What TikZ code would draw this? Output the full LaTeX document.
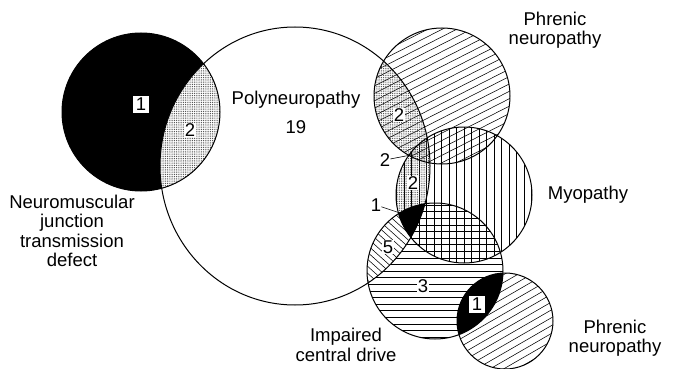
\documentclass[tikz,border=0pt]{standalone}
\usepackage{fontspec}
\setmainfont{Liberation Sans}
\usetikzlibrary{patterns.meta}
\newcommand\hatchlines[4]{% center, angle, spacing, count
  \begin{scope}[shift={#1}, rotate=#2]
    \foreach \k in {-#4,...,#4} \draw[hatchline] (-95,{\k*#3}) -- (95,{\k*#3});
  \end{scope}}
\begin{document}
\begin{tikzpicture}[x=1pt,y=-1pt,
  lbl/.style={font=\fontsize{18.5}{19.5}\selectfont, align=center, inner sep=0pt},
  num/.style={font=\fontsize{18.5}{19.5}\selectfont, fill=white, inner sep=0.8pt},
  boxnum/.style={font=\fontsize{18.5}{19.5}\selectfont, fill=white, draw=black, line width=0.4pt, inner sep=1.2pt, minimum width=17pt, minimum height=18pt},
  ring/.style={draw=black, line width=1.0pt},
  leader/.style={draw=black, line width=0.6pt},
  hatchline/.style={draw=black, line width=0.55pt},
  stipple/.style={pattern={Dots[distance=1.8pt,radius=0.5pt]}, pattern color=black!80}
]
\useasboundingbox (0,0) rectangle (675,369);
\def\NMJ{(141,112) circle[radius=79pt]}
\def\Poly{(295,166) ellipse[x radius=135pt,y radius=139pt]}
\def\TP{(442,96) circle[radius=68pt]}
\def\Myo{(464,195) circle[radius=68pt]}
\def\ICD{(435,271) circle[radius=68pt]}
\def\BP{(505,321) circle[radius=48pt]}

% base fills
\fill[black] \NMJ;
\begin{scope}\clip \TP;  \hatchlines{(442,96)}{27}{6.6}{12}\end{scope}
\begin{scope}\clip \Myo; \hatchlines{(464,195)}{90}{7.5}{10}\end{scope}
\begin{scope}\clip \ICD; \hatchlines{(435,271)}{0}{6.6}{12}\end{scope}
\begin{scope}\clip \BP;  \hatchlines{(505,321)}{30}{6.8}{8}\end{scope}

% overlaps with polyneuropathy
\begin{scope}
  \clip \Poly;
  \fill[white] \NMJ;
  \path[stipple] \NMJ;
  \path[stipple] \TP;
  \path[stipple] \Myo;
  \begin{scope}
    \clip \ICD;
    \fill[white] (150,150) rectangle (450,350);
    \hatchlines{(435,271)}{-42}{5.2}{15}
    \clip \Myo;
    \fill[black] \ICD;
  \end{scope}
\end{scope}

% central drive and lower phrenic overlap
\begin{scope}
  \clip \ICD;
  \fill[black] \BP;
\end{scope}

% outlines
\draw[ring] \NMJ;
\draw[ring] \Poly;
\draw[ring] \TP;
\draw[ring] \Myo;
\draw[ring] \ICD;
\draw[ring] \BP;

% labels
\node[lbl] (nmjlbl) at (72,231) {Neuromuscular\\junction\\transmission\\defect};
\node[lbl] (polylbl) at (296,100) {Polyneuropathy};
\node[lbl] (polynum) at (296,127) {19};
\node[lbl] (tplbl) at (555,30) {Phrenic\\neuropathy};
\node[lbl] (myolbl) at (588,195) {Myopathy};
\node[lbl] (icdlbl) at (346,345) {Impaired\\central drive};
\node[lbl] (bplbl) at (615,338) {Phrenic\\neuropathy};

\node[boxnum] (nmjone) at (141,104) {1};
\node[num] (nmjtwo) at (190,130) {2};
\node[num] (tptwo) at (399,115) {2};
\node[num] (myotwo) at (413,183) {2};
\node[num] (five) at (388,247) {5};
\node[num] (three) at (423,286) {3};
\node[boxnum] (bpone) at (477,304) {1};

\node[lbl] (twolbl) at (385,160) {2};
\coordinate (twopt) at (411,155);
\draw[leader] (twolbl) -- (twopt);
\node[lbl] (onelbl) at (376,205) {1};
\coordinate (onept) at (403,214);
\draw[leader] (onelbl) -- (onept);
\end{tikzpicture}
\end{document}
